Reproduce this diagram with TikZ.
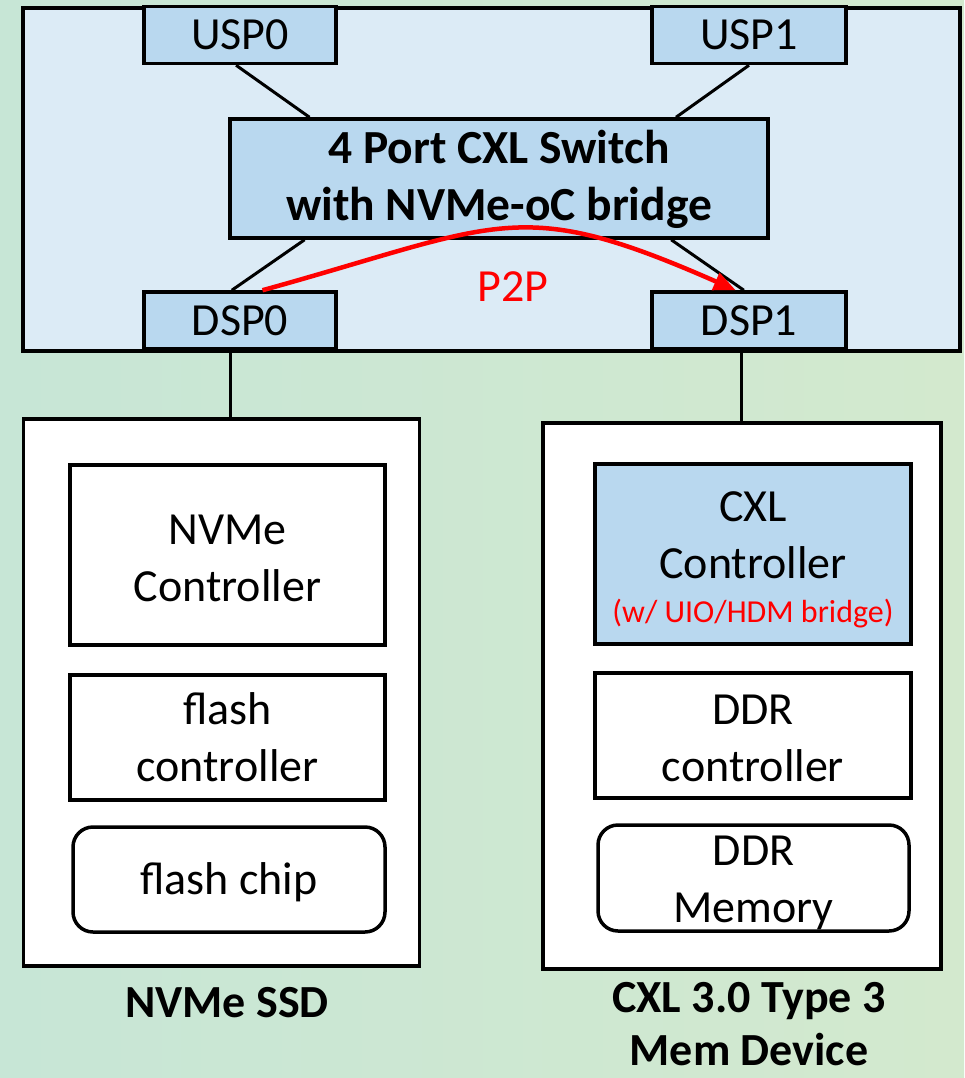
\documentclass[tikz,border=0pt]{standalone}
\usepackage{fontspec}
\setmainfont{Carlito}
\usetikzlibrary{arrows.meta,calc}
\definecolor{bgL}{RGB}{199,230,214}
\definecolor{bgR}{RGB}{211,233,206}
\definecolor{swfill}{RGB}{220,235,246}
\definecolor{portfill}{RGB}{185,216,239}
\definecolor{redc}{RGB}{255,0,0}
\begin{document}
\begin{tikzpicture}[x=1pt,y=-1pt,
  box/.style={draw=black,line width=3.5pt,inner sep=0pt,align=center,font=\fontsize{46}{57}\selectfont},
  port/.style={box,fill=portfill},
  wbox/.style={box,fill=white},
  rbox/.style={box,fill=white,rounded corners=20pt},
  conn/.style={line width=3pt,draw=black},
  lbl/.style={font=\fontsize{46}{53}\selectfont\bfseries,align=center,inner sep=0pt}]
\shade[left color=bgL,right color=bgR] (0,0) rectangle (964,1078);
\useasboundingbox (0,0) rectangle (964,1078);

% switch enclosure
\node[box,fill=swfill,minimum width=937,minimum height=343] (encl) at (491.5,179.5) {};
\node[port,minimum width=192,minimum height=57] (usp0) at (240,35) {USP0};
\node[port,minimum width=194,minimum height=57] (usp1) at (749,35) {USP1};
\node[port,minimum width=538,minimum height=119,font=\fontsize{47.5}{57}\selectfont\bfseries] (sw) at (499,178.5) {\rule{0pt}{35pt}4 Port CXL Switch\\with NVMe-oC bridge};
\node[port,minimum width=192,minimum height=57] (dsp0) at (240,320.5) {DSP0};
\node[port,minimum width=194,minimum height=57] (dsp1) at (749,320.5) {DSP1};

% devices
\node[wbox,minimum width=396,minimum height=547] (ssd) at (221.5,692.5) {};
\node[wbox,minimum width=315,minimum height=180] (nvmec) at (227.5,555) {\rule{0pt}{36pt}NVMe\\Controller};
\node[wbox,minimum width=315,minimum height=125] (flc) at (227.5,737.5) {flash\\controller};
\node[rbox,minimum width=312,minimum height=105] (fchip) at (229,879.5) {\rule{0pt}{38pt}flash chip};

\node[wbox,minimum width=398,minimum height=546] (mem) at (742,696) {};
\node[port,minimum width=316,minimum height=180] (cxlc) at (753,554) {\rule{0pt}{42pt}CXL\\Controller\\[-13pt]{\fontsize{32}{38}\selectfont\color{redc}(w/ UIO/HDM bridge)}};
\node[wbox,minimum width=316,minimum height=125] (ddrc) at (753,735.5) {\rule{0pt}{36pt}DDR\\controller};
\node[rbox,minimum width=311,minimum height=106] (ddrm) at (753.5,878) {\rule{0pt}{40pt}DDR\\Memory};

% labels
\node[lbl] (ssdlbl) at (227,1003) {NVMe SSD};
\node[lbl] (memlbl) at (749,1024) {CXL 3.0 Type 3\\Mem Device};
\node[font=\fontsize{46}{57}\selectfont,text=redc,inner sep=0pt] (p2p) at (513,287) {P2P};

% connectors
\draw[conn] ($(usp0.south west)!0.48!(usp0.south east)$) -- ($(sw.north west)!0.15!(sw.north east)$);
\draw[conn] ($(usp1.south west)!0.5!(usp1.south east)$) -- ($(sw.north west)!0.827!(sw.north east)$);
\draw[conn] ($(sw.south west)!0.141!(sw.south east)$) -- ($(dsp0.north west)!0.458!(dsp0.north east)$);
\draw[conn] ($(sw.south west)!0.818!(sw.south east)$) -- ($(dsp1.north west)!0.474!(dsp1.north east)$);
\coordinate (d0b) at ($(dsp0.south west)!0.45!(dsp0.south east)$);
\draw[conn] (d0b) -- (d0b |- ssd.north);
\coordinate (d1b) at ($(dsp1.south west)!0.46!(dsp1.south east)$);
\draw[conn] (d1b) -- (d1b |- mem.north);

% P2P arrow
\draw[redc,line width=4.5pt,-{Triangle[length=22pt,width=18pt]}]
  ($(dsp0.north west)!0.615!(dsp0.north east)$) .. controls (502,224) and (517,194) .. ($(dsp1.north west)!0.433!(dsp1.north east)$);
\end{tikzpicture}
\end{document}
